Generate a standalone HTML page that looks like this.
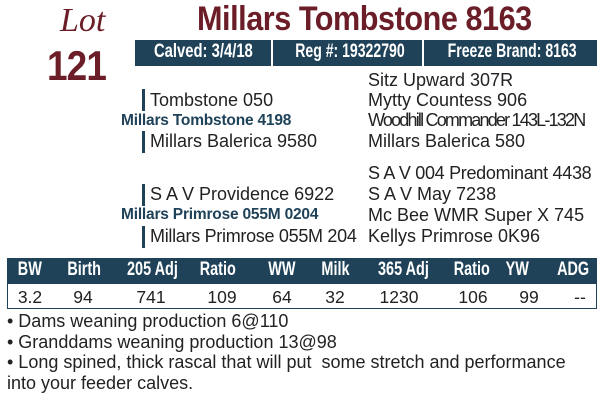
<!DOCTYPE html>
<html><head><style>
*{margin:0;padding:0;box-sizing:border-box}
body{width:604px;height:400px;background:#fff;position:relative;overflow:hidden;font-family:"Liberation Sans",sans-serif;color:#222}
.a{position:absolute;white-space:nowrap}
.cond{font-family:"Liberation Sans",sans-serif;font-weight:bold}
.p{font-size:18px;line-height:20px}
.bar{position:absolute;width:3px;background:#1f4259}
.b{color:#1f4259;font-size:15.5px;font-weight:bold;letter-spacing:-0.2px}
.hb{position:absolute;top:41px;color:#fff;font-size:19px;font-weight:bold;text-align:center;white-space:nowrap;width:200px}
.hb span{display:inline-block;white-space:nowrap}
.th{position:absolute;top:259px;width:100px;text-align:center;color:#fff;font-size:19px;font-weight:bold;white-space:nowrap}
.th span{display:inline-block;transform:scaleX(0.76)}
.td{position:absolute;top:287px;width:100px;text-align:center;font-size:17.5px;white-space:nowrap}
</style></head><body>
<div class="a" style="left:60px;top:2px;font-family:'Liberation Serif',serif;font-style:italic;font-size:34px;color:#6b1e27">Lot</div>
<div class="a cond" style="left:47px;top:42px;font-size:42px;color:#6b1e27;letter-spacing:-1px;transform:scaleX(0.88);transform-origin:left">121</div>
<div class="a cond" style="left:197px;top:0px;font-size:34px;color:#6b1e27;transform:scaleX(0.9);transform-origin:left;letter-spacing:-0.5px">Millars Tombstone 8163</div>
<div class="a" style="left:135px;top:40px;width:462px;height:26px;background:#1f4259"></div>
<div class="a" style="left:271px;top:40px;width:2px;height:26px;background:#fff"></div>
<div class="a" style="left:422px;top:40px;width:2px;height:26px;background:#fff"></div>
<div class="hb" style="left:103px"><span style="transform:scaleX(0.78)">Calved: 3/4/18</span></div>
<div class="hb" style="left:250px"><span style="transform:scaleX(0.74)">Reg #: 19322790</span></div>
<div class="hb" style="left:412px"><span style="transform:scaleX(0.74)">Freeze Brand: 8163</span></div>

<div class="a p" style="left:368px;top:70px">Sitz Upward 307R</div>
<div class="a p" style="left:368px;top:90px">Mytty Countess 906</div>
<div class="a p" style="left:368px;top:110px;letter-spacing:-1.8px">Woodhill Commander 143L-132N</div>
<div class="a p" style="left:368px;top:131px">Millars Balerica 580</div>
<div class="bar" style="left:142px;top:89px;height:22px"></div>
<div class="a p" style="left:150px;top:90px">Tombstone 050</div>
<div class="a b" style="left:121px;top:112px">Millars Tombstone 4198</div>
<div class="bar" style="left:142px;top:131px;height:22px"></div>
<div class="a p" style="left:150px;top:131px">Millars Balerica 9580</div>

<div class="a p" style="left:368px;top:163px;letter-spacing:-0.3px">S A V 004 Predominant 4438</div>
<div class="a p" style="left:368px;top:184px">S A V May 7238</div>
<div class="a p" style="left:368px;top:205px">Mc Bee WMR Super X 745</div>
<div class="a p" style="left:368px;top:226px">Kellys Primrose 0K96</div>
<div class="bar" style="left:142px;top:184px;height:22px"></div>
<div class="a p" style="left:150px;top:184px">S A V Providence 6922</div>
<div class="a b" style="left:121px;top:206px">Millars Primrose 055M 0204</div>
<div class="bar" style="left:142px;top:226px;height:22px"></div>
<div class="a p" style="left:150px;top:226px;letter-spacing:-0.3px">Millars Primrose 055M 204</div>

<div class="a" style="left:7px;top:258px;width:590px;height:26px;background:#1f4259"></div>
<div class="a" style="left:7px;top:284px;width:590px;height:25px;border:1.5px solid #1f4259;border-top:none"></div>
<div class="th" style="left:-20px"><span>BW</span></div>
<div class="th" style="left:34px"><span>Birth</span></div>
<div class="th" style="left:102px"><span>205 Adj</span></div>
<div class="th" style="left:168px"><span>Ratio</span></div>
<div class="th" style="left:232px"><span>WW</span></div>
<div class="th" style="left:285px"><span>Milk</span></div>
<div class="th" style="left:353px"><span>365 Adj</span></div>
<div class="th" style="left:422px"><span>Ratio</span></div>
<div class="th" style="left:467px"><span>YW</span></div>
<div class="th" style="left:523px"><span>ADG</span></div>
<div class="td" style="left:-20px">3.2</div>
<div class="td" style="left:33px">94</div>
<div class="td" style="left:101px">741</div>
<div class="td" style="left:172px">109</div>
<div class="td" style="left:232px">64</div>
<div class="td" style="left:285px">32</div>
<div class="td" style="left:349px">1230</div>
<div class="td" style="left:423px">106</div>
<div class="td" style="left:479px">99</div>
<div class="td" style="left:530px">--</div>
<div class="a" style="left:7px;top:311px;font-size:18px;line-height:20.5px">• Dams weaning production 6@110<br>• Granddams weaning production 13@98<br>• Long spined, thick rascal that will put&nbsp; some stretch and performance<br>into your feeder calves.</div>
</body></html>
